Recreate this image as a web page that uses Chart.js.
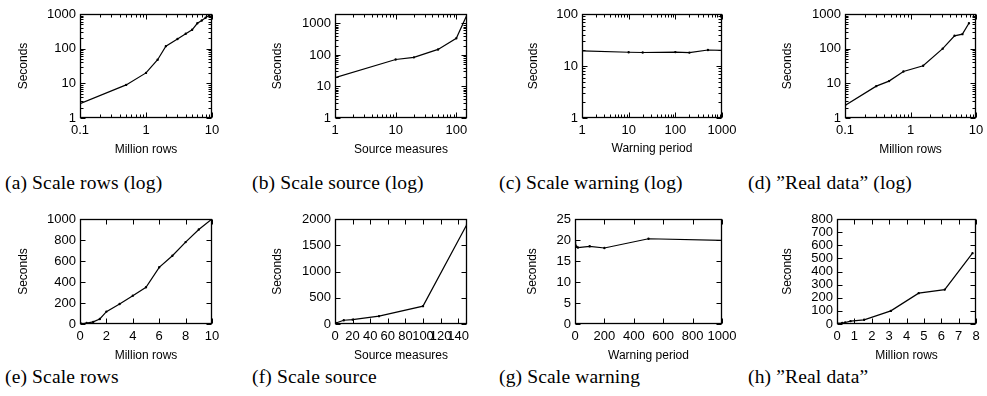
<!DOCTYPE html>
<html>
<head>
<meta charset="utf-8">
<script src="https://cdn.jsdelivr.net/npm/chart.js@4.4.1/dist/chart.umd.min.js"></script>
<style>
  html, body { margin: 0; padding: 0; background: #fff; }
  #page { position: relative; width: 987px; height: 396px; overflow: hidden; }
  #page canvas { position: absolute; }
  .cap { position: absolute; font-family: 'Liberation Serif', serif; font-size: 19.5px; line-height: 20px; white-space: nowrap; color: #000; letter-spacing: 0.15px; }
</style>
</head>
<body>
<div id="page">
  <div class="cap" style="left:5px;top:173px">(a) Scale rows (log)</div>
  <div class="cap" style="left:252px;top:173px">(b) Scale source (log)</div>
  <div class="cap" style="left:499px;top:173px">(c) Scale warning (log)</div>
  <div class="cap" style="left:748px;top:173px">(d) ”Real data” (log)</div>
  <div class="cap" style="left:5px;top:367px">(e) Scale rows</div>
  <div class="cap" style="left:252px;top:367px">(f) Scale source</div>
  <div class="cap" style="left:499px;top:367px">(g) Scale warning</div>
  <div class="cap" style="left:748px;top:367px">(h) ”Real data”</div>
</div>
<script>
// Scale rows experiment (a, e)
const rowsMillion = [0.1, 0.5, 1, 1.5, 2, 3, 4, 5, 6, 7, 8, 9, 10];
const rowsSeconds = [2.6, 9, 20, 48, 118, 190, 270, 350, 540, 650, 780, 900, 1000];

// Scale source experiment (b, f)
const sourceMeasures = [1, 10, 20, 50, 100, 150];
const sourceSeconds = [19, 72, 84, 150, 340, 1900];

// Scale warning experiment (c, g)
const warningPeriod = [1, 10, 20, 100, 200, 500, 1000];
const warningSeconds = [19.5, 18.4, 18.2, 18.5, 18.1, 20.3, 19.9];

// "Real data" experiment (d, h)
const realMillion = [0.1, 0.3, 0.47, 0.78, 1.56, 3.1, 4.7, 6.2, 7.8];
const realSeconds = [2.3, 8.3, 11.6, 22, 32, 100, 235, 262, 540];

// Tick labels
const logTicksRows = [0.1, 1, 10];
const logTicksSeconds = [1, 10, 100, 1000];
const logTicksSource = [1, 10, 100];
const logTicksWarning = [1, 10, 100, 1000];
const logTicksWarnSeconds = [1, 10, 100];
const linTicksRows = [0, 2, 4, 6, 8, 10];
const linTicksRowsSeconds = [0, 200, 400, 600, 800, 1000];
const linTicksSource = [0, 20, 40, 60, 80, 100, 120, 140];
const linTicksSourceSeconds = [0, 500, 1000, 1500, 2000];
const linTicksWarning = [0, 200, 400, 600, 800, 1000];
const linTicksWarnSeconds = [0, 5, 10, 15, 20, 25];
const linTicksReal = [0, 1, 2, 3, 4, 5, 6, 7, 8];
const linTicksRealSeconds = [0, 100, 200, 300, 400, 500, 600, 700, 800];

const LOG = 'logarithmic', LIN = 'linear';

// box = plot area [left, top, right, bottom] on the page
const panels = [
    { box: [80, 14, 212, 118], yTitleX: 23, xTitleY: 150, xs: rowsMillion, ys: rowsSeconds, xTitle: 'Million rows',
      x: [LOG, 0.1, 10, logTicksRows], y: [LOG, 1, 1000, logTicksSeconds] },
    { box: [335, 14, 467, 118], yTitleX: 277, xTitleY: 150, xs: sourceMeasures, ys: sourceSeconds, xTitle: 'Source measures',
      x: [LOG, 1, 150, logTicksSource], y: [LOG, 1, 2000, logTicksSeconds] },
    { box: [582, 14, 722, 118], yTitleX: 533, xTitleY: 149, xs: warningPeriod, ys: warningSeconds, xTitle: 'Warning period',
      x: [LOG, 1, 1000, logTicksWarning], y: [LOG, 1, 100, logTicksWarnSeconds] },
    { box: [845, 14, 976, 118], yTitleX: 787, xTitleY: 150, xs: realMillion, ys: realSeconds, xTitle: 'Million rows',
      x: [LOG, 0.1, 10, logTicksRows], y: [LOG, 1, 1000, logTicksSeconds] },
    { box: [80, 219, 212, 324], yTitleX: 23, xTitleY: 356, xs: rowsMillion, ys: rowsSeconds, xTitle: 'Million rows',
      x: [LIN, 0, 10, linTicksRows], y: [LIN, 0, 1000, linTicksRowsSeconds] },
    { box: [335, 219, 467, 324], yTitleX: 277, xTitleY: 356, xs: sourceMeasures, ys: sourceSeconds, xTitle: 'Source measures',
      x: [LIN, 0, 150, linTicksSource], y: [LIN, 0, 2000, linTicksSourceSeconds] },
    { box: [575, 219, 722, 324], yTitleX: 532, xTitleY: 356, xs: warningPeriod, ys: warningSeconds, xTitle: 'Warning period',
      x: [LIN, 0, 1000, linTicksWarning], y: [LIN, 0, 25, linTicksWarnSeconds] },
    { box: [837, 219, 976, 324], yTitleX: 787, xTitleY: 356, xs: realMillion, ys: realSeconds, xTitle: 'Million rows',
      x: [LIN, 0, 8, linTicksReal], y: [LIN, 0, 800, linTicksRealSeconds] }
];

const logMinors = (min, max) => {
    const out = [];
    for (let e = Math.floor(Math.log10(min)); e <= Math.ceil(Math.log10(max)); e++) {
        for (let k = 2; k <= 9; k++) {
            const v = k * Math.pow(10, e);
            if (v > min && v < max) out.push(v);
        }
    }
    return out;
};

// gnuplot style frame with inward ticks on all four sides
const framePlugin = {
    id: 'gnuplotFrame',
    afterDatasetsDraw(chart) {
        const { ctx, chartArea: a } = chart;
        const sx = chart.scales.x, sy = chart.scales.y;
        const L = Math.round(a.left) + 0.5, R = Math.round(a.right) - 0.5;
        const T = Math.round(a.top) + 0.5, B = Math.round(a.bottom) - 0.5;
        ctx.save();
        ctx.strokeStyle = '#000';
        ctx.lineWidth = 1;
        ctx.beginPath();
        const mark = (scale, v, len) => {
            const p = Math.round(scale.getPixelForValue(v)) + 0.5;
            if (scale === sx) {
                ctx.moveTo(p, B); ctx.lineTo(p, B - len);
                ctx.moveTo(p, T); ctx.lineTo(p, T + len);
            } else {
                ctx.moveTo(L, p); ctx.lineTo(L + len, p);
                ctx.moveTo(R, p); ctx.lineTo(R - len, p);
            }
        };
        [sx, sy].forEach(s => {
            s.ticks.forEach(t => mark(s, t.value, 5));
            if (s.type === LOG) logMinors(s.min, s.max).forEach(v => mark(s, v, 3));
        });
        ctx.stroke();
        ctx.lineWidth = 1.3;
        ctx.strokeRect(L, T, R - L, B - T);
        ctx.restore();
    }
};

const makeAxis = (horizontal, spec, title, size) => {
    const [type, min, max, tickValues] = spec;
    return {
        type, min, max,
        position: horizontal ? 'bottom' : 'left',
        grid: { display: false, drawTicks: false },
        border: { display: false },
        ticks: {
            color: '#000',
            font: { family: 'Liberation Sans', size: 13 },
            padding: horizontal ? 5 : 4,
            autoSkip: false, maxRotation: 0, minRotation: 0,
            callback: v => String(v)
        },
        afterBuildTicks: s => { s.ticks = tickValues.map(v => ({ value: v })); },
        afterFit: s => {
            if (horizontal) s.height = size; else s.width = size;
            s.paddingLeft = s.paddingRight = s.paddingTop = s.paddingBottom = 0;
        },
        title: { display: true, text: title, color: '#000', font: { family: 'Liberation Sans', size: 12 }, padding: 0 }
    };
};

const page = document.getElementById('page');
const PAD_TOP = 12, PAD_RIGHT = 14, TITLE_HALF = 7;

panels.forEach(p => {
    const [left, top, right, bottom] = p.box;
    const canvasLeft = p.yTitleX - TITLE_HALF;
    const canvasTop = top - PAD_TOP;
    const yWidth = left - canvasLeft;
    const xHeight = p.xTitleY + TITLE_HALF - bottom;
    const w = yWidth + (right - left) + PAD_RIGHT;
    const h = PAD_TOP + (bottom - top) + xHeight;

    const canvas = document.createElement('canvas');
    canvas.width = w; canvas.height = h;
    canvas.style.left = canvasLeft + 'px';
    canvas.style.top = canvasTop + 'px';
    canvas.style.width = w + 'px';
    canvas.style.height = h + 'px';
    page.appendChild(canvas);

    new Chart(canvas, {
        type: 'scatter',
        data: {
            datasets: [{
                data: p.xs.map((v, i) => ({ x: v, y: p.ys[i] })),
                showLine: true,
                borderColor: '#000',
                backgroundColor: '#000',
                borderWidth: 1.2,
                pointRadius: 0.6,
                pointHoverRadius: 0,
                tension: 0
            }]
        },
        options: {
            responsive: false,
            animation: false,
            devicePixelRatio: 1,
            events: [],
            layout: { padding: { left: 0, top: PAD_TOP, right: PAD_RIGHT, bottom: 0 } },
            plugins: { legend: { display: false }, tooltip: { enabled: false } },
            scales: {
                x: makeAxis(true, p.x, p.xTitle, xHeight),
                y: makeAxis(false, p.y, 'Seconds', yWidth)
            }
        },
        plugins: [framePlugin]
    });
});
</script>
</body>
</html>
